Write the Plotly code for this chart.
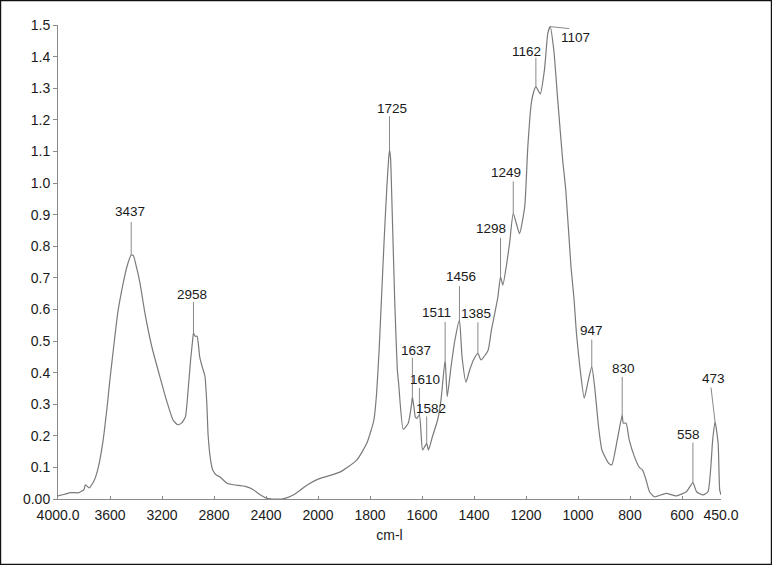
import numpy as np
import plotly.graph_objects as go

# ---- spectrum data (wavenumber cm-1, absorbance) ----
wavenumber = [4000, 3950, 3900, 3840, 3800, 3790, 3760, 3720, 3690, 3655, 3620, 3600, 3575,
              3540, 3500, 3470, 3437, 3420, 3400, 3370, 3330, 3280, 3215, 3160, 3115, 3080,
              3050, 3020, 3000, 2980, 2965, 2958, 2945, 2930, 2910, 2885, 2870, 2855, 2845,
              2825, 2808, 2780, 2754, 2700, 2650, 2560, 2500, 2450, 2400, 2350, 2280, 2230,
              2180, 2130, 2080, 2000,
              1916, 1851, 1812, 1785, 1775, 1765, 1755, 1745, 1735, 1728, 1725, 1721, 1715,
              1705, 1695, 1690, 1672, 1653, 1640, 1637, 1630, 1626, 1620, 1610, 1598, 1590,
              1582, 1575, 1560, 1540, 1527, 1511, 1503, 1488, 1474, 1456, 1446, 1431, 1416,
              1402, 1385, 1373, 1346, 1333, 1320, 1308, 1298, 1289, 1276, 1263, 1249, 1225,
              1205, 1193, 1180, 1172, 1162, 1145, 1129, 1116, 1107, 1093, 1078, 1059, 1047,
              1027, 1015, 1006, 993, 976, 960, 947, 936, 921, 908, 882, 870, 849, 830, 826,
              815, 803, 783, 764, 752, 738, 725, 706, 661, 622, 583, 558, 544, 519, 500,
              482, 473, 461, 455, 450]
absorbance = [0.010, 0.015, 0.020, 0.020, 0.030, 0.045, 0.035, 0.060, 0.100, 0.180, 0.300, 0.380, 0.470,
              0.590, 0.680, 0.735, 0.772, 0.770, 0.740, 0.685, 0.585, 0.485, 0.385, 0.305, 0.250, 0.235,
              0.240, 0.260, 0.340, 0.440, 0.500, 0.525, 0.515, 0.515, 0.450, 0.410, 0.390, 0.300, 0.200,
              0.120, 0.090, 0.075, 0.070, 0.050, 0.045, 0.040, 0.030, 0.015, 0.003, 0.000, 0.000, 0.005,
              0.015, 0.030, 0.045, 0.063,
              0.085, 0.123, 0.177, 0.250, 0.330, 0.470, 0.650, 0.830, 0.990, 1.080, 1.104, 1.080, 0.920,
              0.630, 0.410, 0.367, 0.220, 0.240, 0.300, 0.324, 0.285, 0.260, 0.255, 0.266, 0.155, 0.165,
              0.176, 0.155, 0.197, 0.250, 0.313, 0.440, 0.324, 0.420, 0.500, 0.566, 0.450, 0.370, 0.410,
              0.440, 0.461, 0.440, 0.470, 0.535, 0.588, 0.640, 0.703, 0.677, 0.735, 0.810, 0.904, 0.840,
              0.925, 1.115, 1.250, 1.284, 1.305, 1.282, 1.358, 1.474, 1.495, 1.420, 1.263, 1.073, 0.978,
              0.735, 0.630, 0.524, 0.419, 0.319, 0.377, 0.419, 0.355, 0.229, 0.155, 0.113, 0.108, 0.187,
              0.266, 0.240, 0.240, 0.187, 0.134, 0.100, 0.092, 0.060, 0.023, 0.007, 0.018, 0.010, 0.023,
              0.052, 0.023, 0.013, 0.023, 0.187, 0.245, 0.176, 0.028, 0.013]

# ---- peak labels ----
peak_labels = [3437, 2958, 1725, 1637, 1610, 1582, 1511, 1456, 1385, 1298, 1249, 1162, 1107, 947, 830, 558, 473]
peak_heights = [0.772, 0.525, 1.104, 0.324, 0.266, 0.176, 0.440, 0.566, 0.461, 0.703, 0.904, 1.305, 1.495,
                0.419, 0.266, 0.052, 0.245]
# label text offsets from the peak (pixels, +dy = down) -- styling
label_dx = [-1, -1, 2, 4, 6, 4, -9, 2, -2, -10, -7, -9, 25, 0, 1, -4, -2]
label_dy = [-44, -39, -42, -46, -35, -35, -47, -44, -40, -48, -41, -35, 11, -36, -46, -48, -43]
# leader line end offsets from the peak (pixels, +dy = down) -- styling
leader_dx = [0, 0, 0, 0, 0, 0, 0, 0, 0, 0, 0, 0, 19, 0, 0, 0, -4]
leader_dy = [-33, -31, -34, -39, -27, -27, -38, -34, -31, -39, -32, -29, 2, -27, -38, -40, -34]

# ---- axis ticks ----
x_tick_values = [4000, 3600, 3200, 2800, 2400, 2000, 1800, 1600, 1400, 1200, 1000, 800, 600, 450]
x_tick_labels = ["4000.0", "3600", "3200", "2800", "2400", "2000", "1800", "1600", "1400",
                 "1200", "1000", "800", "600", "450.0"]
y_tick_values = [0.0, 0.1, 0.2, 0.3, 0.4, 0.5, 0.6, 0.7, 0.8, 0.9, 1.0, 1.1, 1.2, 1.3, 1.4, 1.5]
y_tick_labels = ["0.00", "0.1", "0.2", "0.3", "0.4", "0.5", "0.6", "0.7", "0.8", "0.9", "1.0",
                 "1.1", "1.2", "1.3", "1.4", "1.5"]


def to_axis(w):
    """FTIR scale change at 2000 cm-1: above it compressed by a factor 2."""
    w = np.asarray(w, dtype=float)
    return np.where(w >= 2000, (4000 - w) / 2.0, 1000 + (2000 - w))


FONT = "Liberation Sans, Arial, sans-serif"
LINE = "#7a7a7a"

fig = go.Figure()
fig.add_trace(go.Scatter(x=to_axis(wavenumber), y=absorbance, mode="lines",
                         line=dict(color=LINE, width=1.2, shape="spline", smoothing=0.5),
                         hoverinfo="skip", showlegend=False))

for w, h, dx, dy, lx, ly in zip(peak_labels, peak_heights, label_dx, label_dy, leader_dx, leader_dy):
    xa = float(to_axis(w))
    fig.add_shape(type="line", xref="x", yref="y", xsizemode="pixel", ysizemode="pixel",
                  xanchor=xa, yanchor=h, x0=0, x1=lx, y0=0, y1=-ly,
                  line=dict(color="#8a8a8a", width=1))
    fig.add_annotation(x=xa, y=h, text=str(w), showarrow=False, xshift=dx, yshift=-dy,
                       xanchor="center", yanchor="middle",
                       font=dict(family=FONT, size=13.5, color="#1a1a1a"))

L, R, T, B = 58, 51, 25, 66
W, H = 772, 565
pw, ph = W - L - R, H - T - B
fig.add_shape(type="rect", xref="paper", yref="paper",
              x0=(0.6 - L) / pw, x1=(W - 0.6 - L) / pw,
              y0=-(B - 0.6) / ph, y1=1 + (T - 0.6) / ph,
              line=dict(color="#111111", width=1.2), layer="above")

fig.update_layout(
    width=W, height=H, margin=dict(l=L, r=R, t=T, b=B),
    paper_bgcolor="white", plot_bgcolor="white",
    font=dict(family=FONT, size=14, color="#1a1a1a"),
    xaxis=dict(range=[0, float(to_axis(450))], tickvals=to_axis(x_tick_values).tolist(),
               ticktext=x_tick_labels, showgrid=False, zeroline=False, showline=True,
               linecolor="#8a8a8a", linewidth=1, ticks="inside", ticklen=3, tickcolor="#8a8a8a",
               tickfont=dict(size=14), ticklabelstandoff=3,
               title=dict(text="cm-l", standoff=8, font=dict(size=14))),
    yaxis=dict(range=[0, 1.5], tickvals=y_tick_values, ticktext=y_tick_labels,
               showgrid=False, zeroline=False, showline=True, linecolor="#8a8a8a", linewidth=1,
               ticks="outside", ticklen=4, tickcolor="#8a8a8a", tickfont=dict(size=14)),
)

fig.write_html("out.html", config={"displayModeBar": False},
               post_script="document.body.style.margin='0';")
